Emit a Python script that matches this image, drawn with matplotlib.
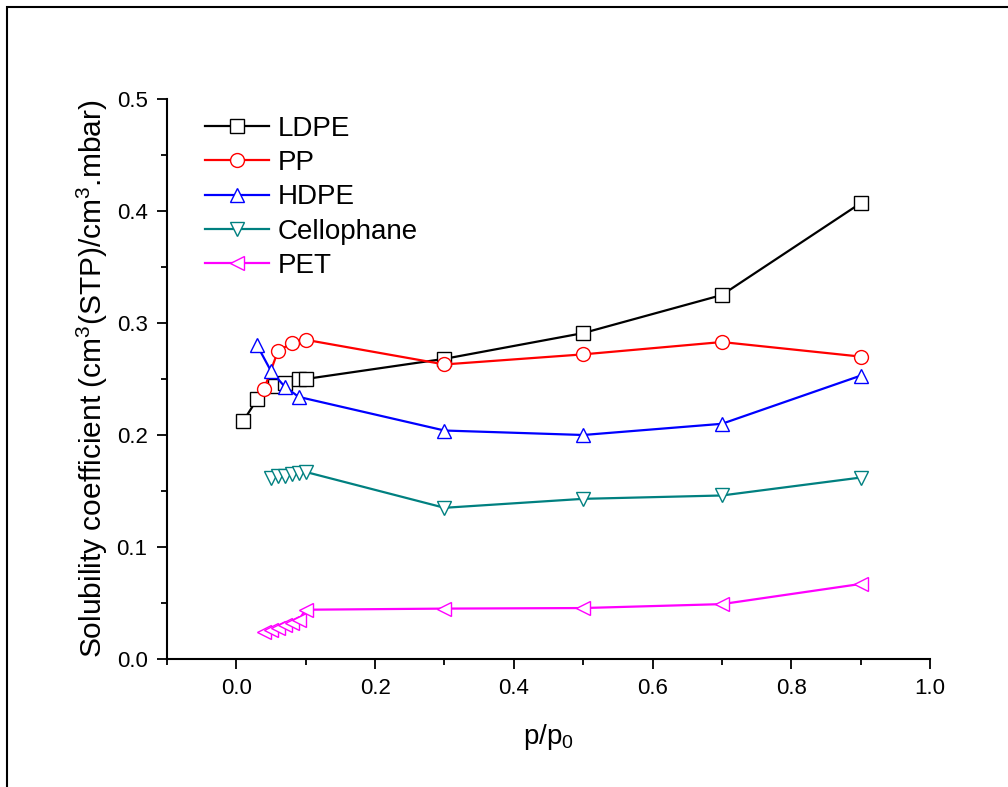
import numpy as np
import matplotlib
matplotlib.use("Agg")
import matplotlib.pyplot as plt
from matplotlib.patches import Rectangle
from matplotlib.ticker import MultipleLocator

plt.rcParams['font.family'] = ['Liberation Sans', 'DejaVu Sans']
plt.rcParams['mathtext.default'] = 'regular'

# relative pressure p/p0 and solubility coefficient for each film
ldpe_x = [0.01, 0.03, 0.055, 0.07, 0.09, 0.1, 0.3, 0.5, 0.7, 0.9]
ldpe_y = [0.2125, 0.232, 0.244, 0.246, 0.250, 0.250, 0.268, 0.291, 0.325, 0.407]

pp_x = [0.04, 0.06, 0.08, 0.1, 0.3, 0.5, 0.7, 0.9]
pp_y = [0.241, 0.275, 0.282, 0.285, 0.263, 0.272, 0.283, 0.270]

hdpe_x = [0.03, 0.05, 0.07, 0.09, 0.3, 0.5, 0.7, 0.9]
hdpe_y = [0.280, 0.257, 0.243, 0.234, 0.204, 0.200, 0.210, 0.253]

cello_x = [0.05, 0.06, 0.07, 0.08, 0.09, 0.1, 0.3, 0.5, 0.7, 0.9]
cello_y = [0.162, 0.163, 0.163, 0.165, 0.166, 0.167, 0.135, 0.143, 0.146, 0.162]

pet_x = [0.04, 0.05, 0.06, 0.07, 0.08, 0.09, 0.1, 0.3, 0.5, 0.7, 0.9]
pet_y = [0.024, 0.026, 0.028, 0.030, 0.032, 0.035, 0.044, 0.045, 0.0455, 0.049, 0.067]

series = [
    ("LDPE", ldpe_x, ldpe_y, "black", "s"),
    ("PP", pp_x, pp_y, "red", "o"),
    ("HDPE", hdpe_x, hdpe_y, "blue", "^"),
    ("Cellophane", cello_x, cello_y, "#008080", "v"),
    ("PET", pet_x, pet_y, "magenta", "<"),
]

fig = plt.figure(figsize=(10.08, 7.87), dpi=100)
ax = fig.add_axes([167 / 1008, 128 / 787, 763 / 1008, 560 / 787])

for name, xs, ys, col, mk in series:
    ax.plot(xs, ys, color=col, marker=mk, markersize=10, mfc="white",
            mec=col, mew=1.0, lw=1.6, label=name)

ax.set_xlim(-0.1, 1.0)
ax.set_ylim(0.0, 0.5)
ax.xaxis.set_major_locator(MultipleLocator(0.2))
ax.xaxis.set_minor_locator(MultipleLocator(0.1))
ax.yaxis.set_major_locator(MultipleLocator(0.1))
ax.yaxis.set_minor_locator(MultipleLocator(0.05))
ax.xaxis.set_major_formatter(plt.FormatStrFormatter('%.1f'))
ax.yaxis.set_major_formatter(plt.FormatStrFormatter('%.1f'))

ax.spines['top'].set_visible(False)
ax.spines['right'].set_visible(False)
for s in ('left', 'bottom'):
    ax.spines[s].set_linewidth(1.5)
ax.tick_params(which='major', direction='out', length=7, width=1.3, labelsize=16, pad=7)
ax.tick_params(which='minor', direction='out', length=4, width=1.3)

ax.set_xlabel("p/p$_0$", fontsize=20, labelpad=16)
ax.set_ylabel("Solubility coefficient (cm$^3$(STP)/cm$^3$.mbar)", fontsize=21.5, labelpad=5)

ax.legend(loc="upper left", bbox_to_anchor=(0.05, 0.97), frameon=False,
          fontsize=20, handlelength=2.3, handletextpad=0.3, labelspacing=0.3,
          borderpad=0, borderaxespad=0)

# border around the figure
fig.patches.append(Rectangle((7 / 1008, -0.05), 1.1, (787 - 7) / 787 + 0.05,
                             transform=fig.transFigure, fill=False,
                             edgecolor="black", lw=1.5))

fig.savefig("out.png", dpi=100)
